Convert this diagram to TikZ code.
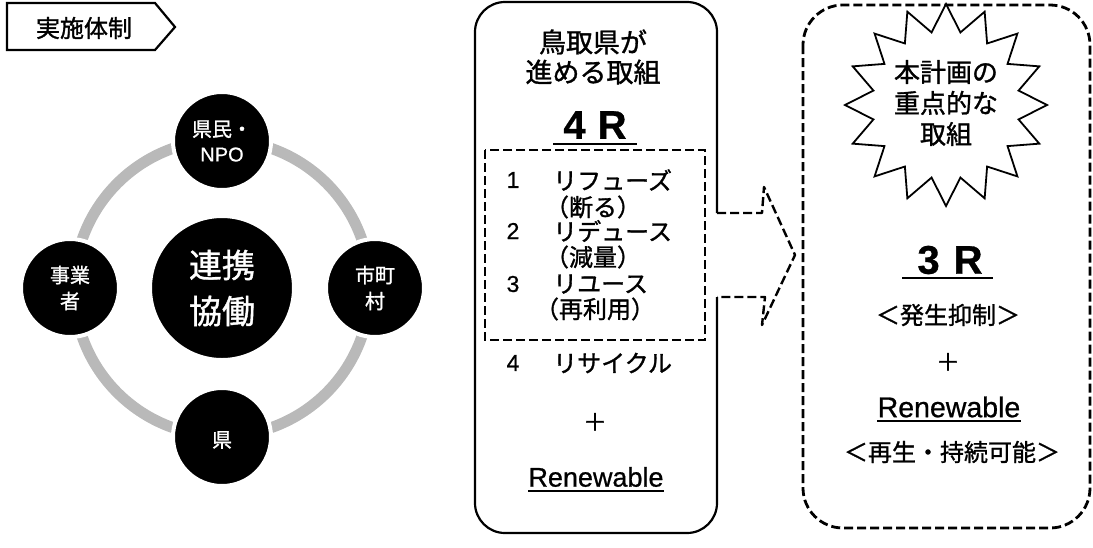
\documentclass[tikz,border=0pt]{standalone}
\usepackage{fontspec}
\setmainfont[FakeBold=0.8]{Liberation Sans}
\newfontfamily\jp[FakeBold=1.2]{Noto Sans CJK JP}
\begin{document}
\begin{tikzpicture}[x=1pt,y=-1pt,
  jt/.style={font=\jp\fontsize{24}{26}\selectfont, inner sep=0pt},
  jhead/.style={font=\jp\fontsize{27}{30}\selectfont, inner sep=0pt},
  lat/.style={font=\fontsize{23}{26}\selectfont, inner sep=0pt},
  bigr/.style={font=\bfseries\fontsize{40}{44}\selectfont, inner sep=0pt},
  ctext/.style={font=\jp\fontsize{20}{26}\selectfont, text=white, inner sep=0pt, align=center},
  blob/.style={circle, fill=black, draw=white, line width=4pt, minimum size=98pt, inner sep=0pt},
  dsh/.style={line width=2.4pt, dash pattern=on 9pt off 4pt},
  solid line/.style={line width=2.2pt}]
\useasboundingbox (0,0) rectangle (1093,547);

% ---- title box
\draw[solid line, line join=miter] (7,3) -- (155,3) -- (175,27) -- (155,50) -- (7,50) -- cycle;
\node[font=\jp\fontsize{24}{28}\selectfont, inner sep=0pt] (title) at (84,28) {実施体制};

% ---- ring and circles
\coordinate (rc) at (222,288);
\draw[gray!55, line width=11pt] (rc) circle[radius=148];
\node[blob, minimum size=144pt] (center) at (222,288) {};
\node[ctext, font=\jp\fontsize{33}{46}\selectfont] at (center) {連携\\協働};
\node[blob] (top) at (222,141) {};
\node[ctext, align=center] at (top) {県民・\\[-1pt]{\fontsize{20}{24}\selectfont\rmfamily NPO}};
\node[blob] (left) at (70,288) {};
\node[ctext] at (left) {事業\\者};
\node[blob] (right) at (375,288) {};
\node[ctext] at (right) {市町\\村};
\node[blob] (bottom) at (222,437) {};
\node[ctext] at ([yshift=-3pt]bottom.center) {県};

% ---- middle box (outer, with gap for arrow)
\draw[solid line, rounded corners=30pt] (717,213) -- (717,2) -- (475,2) -- (475,533) -- (717,533) -- (717,297);
\node[jhead] (h1) at (593,42) {鳥取県が};
\node[jhead] (h2) at (593,72) {進める取組};
\node[bigr] (r4) at (595,125) {4\hspace{12pt}R};
\draw[line width=1.6pt] (553,144) -- (637,144);

% inner dashed box
\draw[dsh] (485,150) rectangle (705,340);
% dashed arrow
\draw[dsh, line join=round] (717,213) -- (762,213) -- (764,187) -- (795,255) -- (762,325) -- (765,297) -- (717,297);

\node[lat] (n1) at (513,180) {1};
\node[jt, anchor=west] (i1) at (553,180) {リフューズ};
\node[jt] (p1) at (593,207) {（断る）};
\node[lat] (n2) at (513,231) {2};
\node[jt, anchor=west] (i2) at (553,231) {リデュース};
\node[jt] (p2) at (593,257) {（減量）};
\node[lat] (n3) at (513,284) {3};
\node[jt, anchor=west] (i3) at (553,284) {リユース};
\node[jt] (p3) at (595,309) {（再利用）};
\node[lat] (n4) at (513,363) {4};
\node[jt, anchor=west] (i4) at (553,363) {リサイクル};
\node[jt] (plus1) at (595,422) {＋};
\node[lat, font=\fontsize{27}{30}\selectfont] (ren1) at (596,477) {Renewable};
\draw[line width=1.3pt] (528,491) -- (664,491);

% ---- right dashed box
\draw[dsh, line width=2.8pt, rounded corners=40pt] (803,5) rectangle (1090,528);

% starburst
\draw[line width=1.8pt, line join=miter, fill=white, shift={(946,105)}]
  (90:101) \foreach \i [evaluate=\i as \r using {mod(\i,2)==0 ? 101 : 74}] in {1,...,31} { -- (90+\i*11.25:\r) } -- cycle;
\node[font=\jp\fontsize{26}{31}\selectfont, inner sep=0pt, align=center] (star) at (946,103) {本計画の\\重点的な\\取組};

\node[bigr] (r3) at (950,260) {3\hspace{14pt}R};
\draw[line width=1.6pt] (902,278) -- (993,278);
\node[jt] (hassei) at (948,315) {＜発生抑制＞};
\node[jt] (plus2) at (948,362) {＋};
\node[lat, font=\fontsize{28.5}{32}\selectfont] (ren2) at (949,407) {Renewable};
\draw[line width=1.3pt] (877,421) -- (1021,421);
\node[jt] (saisei) at (952,452) {＜再生・持続可能＞};
\end{tikzpicture}
\end{document}
